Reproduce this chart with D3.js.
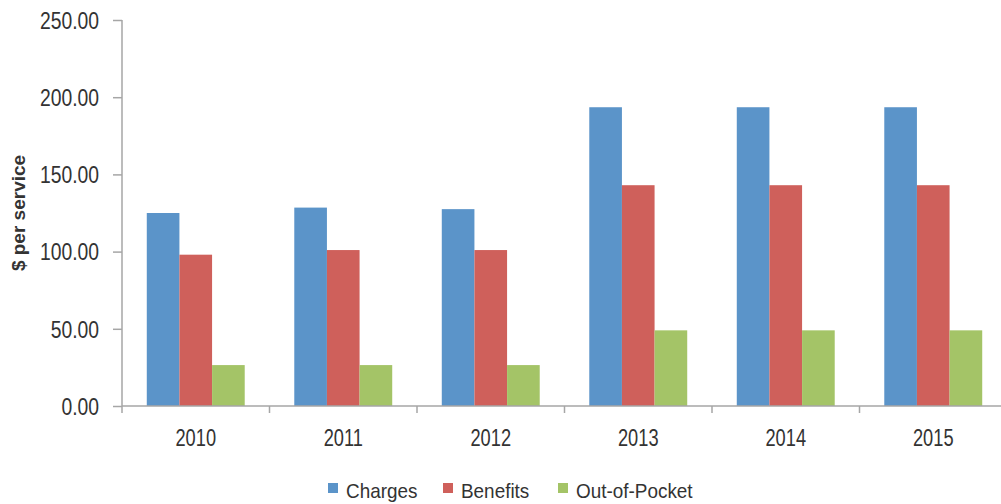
<!DOCTYPE html>
<html>
<head>
<meta charset="UTF-8">
<script src="https://d3js.org/d3.v7.min.js"></script>
<style>
  body { margin: 0; background: #fff; }
  text { font-family: "Liberation Sans", Arial, sans-serif; fill: #333; }
  .axis path, .axis line { stroke: #a6a6a6; stroke-width: 1.5px; }
</style>
</head>
<body>
<svg width="1001" height="504"></svg>
<script>
var years = ["2010", "2011", "2012", "2013", "2014", "2015"];
var seriesNames = ["Charges", "Benefits", "Out-of-Pocket"];
var charges = [125.0, 128.5, 127.5, 193.5, 193.5, 193.5];
var benefits = [98.0, 101.0, 101.0, 143.0, 143.0, 143.0];
var outOfPocket = [26.5, 26.5, 26.5, 49.0, 49.0, 49.0];
var yTicks = [0, 50, 100, 150, 200, 250];
var colors = ["#5b94c9", "#cf605b", "#a4c467"];

var seriesValues = [charges, benefits, outOfPocket];
var rows = years.map(function(y, i) {
    return { year: y, values: seriesValues.map(function(s, k) { return { key: seriesNames[k], v: s[i] }; }) };
});

// the source text looks horizontally squeezed
function squeeze(sel, f) {
    sel.each(function() {
        var w = this.getComputedTextLength();
        d3.select(this).attr("textLength", w * f).attr("lengthAdjust", "spacingAndGlyphs");
    });
}

var svg = d3.select("svg");
var left = 122, zeroY = 406, topY = 20;
var step = 147.5;

var x = d3.scaleBand().domain(years).range([left, left + step * years.length]).padding(0);
var xs = d3.scaleBand().domain(seriesNames).range([step * 0.168, step * 0.832]).padding(0);
var y = d3.scaleLinear().domain([0, 250]).range([zeroY, topY]);

// y axis
var yAxis = svg.append("g").attr("class", "axis").attr("transform", "translate(" + left + ",0)")
    .call(d3.axisLeft(y).tickValues(yTicks).tickFormat(d3.format(".2f")).tickSize(9).tickPadding(14));
yAxis.select(".domain").attr("d", "M0," + topY + "V" + zeroY);
yAxis.selectAll("text").style("font-size", "23px").attr("fill", "#333").attr("dy", ".36em")
    .call(squeeze, 0.84);

// bars
var groups = svg.append("g").selectAll("g").data(rows).enter().append("g")
    .attr("transform", function(d) { return "translate(" + x(d.year) + ",0)"; });
groups.selectAll("rect").data(function(d) { return d.values; }).enter().append("rect")
    .attr("x", function(d) { return xs(d.key); })
    .attr("width", xs.bandwidth())
    .attr("y", function(d) { return y(d.v); })
    .attr("height", function(d) { return zeroY - y(d.v); })
    .attr("fill", function(d, i) { return colors[i]; });

// x axis
var xAxis = svg.append("g").attr("class", "axis").attr("transform", "translate(0," + zeroY + ")");
xAxis.append("line").attr("x1", left).attr("x2", 1001).attr("y1", 0).attr("y2", 0);
xAxis.selectAll(".tk").data(years).enter().append("line").attr("class", "tk")
    .attr("x1", function(d) { return x(d); }).attr("x2", function(d) { return x(d); })
    .attr("y1", 0).attr("y2", 7);
xAxis.selectAll(".lbl").data(years).enter().append("text").attr("class", "lbl")
    .attr("x", function(d) { return x(d) + x.bandwidth() / 2; })
    .attr("y", 40)
    .attr("text-anchor", "middle")
    .style("font-size", "24px")
    .text(function(d) { return d; })
    .call(squeeze, 0.76);

// y title
svg.append("text")
    .attr("transform", "translate(25,213) rotate(-90)")
    .attr("text-anchor", "middle")
    .style("font-size", "19px").style("font-weight", "bold").attr("fill", "#222")
    .text("$ per service");

// legend
var legendX = [328, 443, 558];
var legend = svg.append("g").selectAll("g").data(seriesNames).enter().append("g")
    .attr("transform", function(d, i) { return "translate(" + legendX[i] + ",483)"; });
legend.append("rect").attr("width", 10).attr("height", 10).attr("fill", function(d, i) { return colors[i]; });
legend.append("text").attr("x", 18).attr("y", 15).style("font-size", "21px")
    .text(function(d) { return d; })
    .call(squeeze, 0.9);
</script>
</body>
</html>
